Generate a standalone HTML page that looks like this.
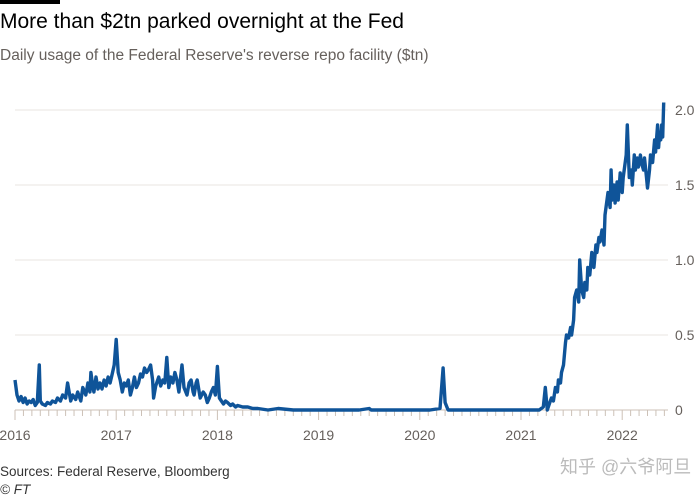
<!DOCTYPE html>
<html><head><meta charset="utf-8"><style>
body{margin:0;width:700px;height:500px;background:#fff;font-family:"Liberation Sans","Noto Sans CJK SC",sans-serif;overflow:hidden;position:relative}
.bar{position:absolute;left:0;top:0;width:60px;height:4px;background:#000}
#title{position:absolute;left:0;top:10px;font-size:21px;color:#000}
#sub{position:absolute;left:0;top:47px;font-size:15.5px;color:#66605c}
#src{position:absolute;left:0;top:464px;font-size:13.5px;color:#333}
#ft{position:absolute;left:0;top:482px;font-size:13.5px;color:#333;font-style:italic}
#wm{position:absolute;left:560px;top:453px;font-size:18px;color:#bbb}
svg{position:absolute;left:0;top:0}
</style></head><body>
<div class="bar"></div>
<div id="title">More than $2tn parked overnight at the Fed</div>
<div id="sub">Daily usage of the Federal Reserve's reverse repo facility ($tn)</div>
<svg id="chart" width="700" height="500"></svg>
<div id="src">Sources: Federal Reserve, Bloomberg</div>
<div id="ft">© FT</div>
<div id="wm">知乎 @六爷阿旦</div>
<script>
const yTicks=[0,0.5,1.0,1.5,2.0];
const yTickLabels=["0","0.5","1.0","1.5","2.0"];
const xYears=[2016,2017,2018,2019,2020,2021,2022];
const dates=[2016.0,2016.02,2016.04,2016.06,2016.08,2016.1,2016.12,2016.14,2016.16,2016.18,2016.2,2016.22,2016.24,2016.25,2016.27,2016.3,2016.32,2016.35,2016.37,2016.4,2016.42,2016.45,2016.47,2016.5,2016.52,2016.55,2016.57,2016.6,2016.62,2016.65,2016.67,2016.7,2016.72,2016.74,2016.75,2016.77,2016.78,2016.8,2016.82,2016.84,2016.86,2016.88,2016.9,2016.92,2016.94,2016.96,2016.98,2017.0,2017.02,2017.04,2017.06,2017.08,2017.1,2017.12,2017.14,2017.16,2017.18,2017.2,2017.22,2017.24,2017.26,2017.28,2017.3,2017.32,2017.34,2017.36,2017.37,2017.39,2017.4,2017.42,2017.44,2017.46,2017.48,2017.5,2017.52,2017.54,2017.56,2017.58,2017.6,2017.62,2017.65,2017.67,2017.7,2017.72,2017.74,2017.76,2017.77,2017.79,2017.8,2017.83,2017.86,2017.88,2017.9,2017.92,2017.94,2017.96,2017.98,2018.0,2018.02,2018.04,2018.06,2018.08,2018.1,2018.13,2018.15,2018.18,2018.2,2018.25,2018.3,2018.35,2018.4,2018.5,2018.6,2018.75,2018.9,2019.0,2019.2,2019.4,2019.5,2019.52,2019.7,2019.9,2020.0,2020.1,2020.2,2020.23,2020.25,2020.28,2020.35,2020.5,2020.7,2020.9,2021.0,2021.1,2021.18,2021.22,2021.24,2021.26,2021.28,2021.3,2021.32,2021.34,2021.36,2021.37,2021.39,2021.4,2021.42,2021.44,2021.45,2021.47,2021.49,2021.5,2021.52,2021.53,2021.55,2021.57,2021.58,2021.6,2021.62,2021.63,2021.65,2021.66,2021.68,2021.7,2021.72,2021.74,2021.75,2021.77,2021.78,2021.8,2021.82,2021.83,2021.85,2021.86,2021.88,2021.89,2021.9,2021.92,2021.93,2021.95,2021.96,2021.98,2022.0,2022.01,2022.02,2022.04,2022.05,2022.07,2022.09,2022.1,2022.12,2022.13,2022.15,2022.16,2022.18,2022.19,2022.21,2022.22,2022.24,2022.25,2022.27,2022.28,2022.3,2022.32,2022.33,2022.35,2022.36,2022.37,2022.38,2022.39,2022.4,2022.41,2022.42,2022.43];
const values=[0.2,0.1,0.06,0.09,0.05,0.08,0.04,0.06,0.05,0.07,0.03,0.05,0.3,0.06,0.04,0.03,0.05,0.04,0.06,0.05,0.08,0.06,0.1,0.08,0.18,0.06,0.1,0.07,0.12,0.06,0.15,0.1,0.18,0.12,0.25,0.15,0.12,0.22,0.14,0.18,0.14,0.2,0.16,0.22,0.18,0.24,0.3,0.47,0.25,0.2,0.12,0.18,0.16,0.2,0.1,0.15,0.22,0.15,0.18,0.24,0.22,0.28,0.25,0.27,0.3,0.2,0.08,0.16,0.18,0.22,0.16,0.2,0.18,0.35,0.15,0.22,0.18,0.25,0.2,0.12,0.3,0.15,0.1,0.18,0.2,0.12,0.1,0.18,0.2,0.08,0.12,0.1,0.05,0.08,0.12,0.15,0.1,0.29,0.08,0.06,0.04,0.06,0.05,0.03,0.04,0.02,0.03,0.02,0.02,0.01,0.01,0.0,0.01,0.0,0.0,0.0,0.0,0.0,0.01,0.0,0.0,0.0,0.0,0.0,0.01,0.28,0.05,0.0,0.0,0.0,0.0,0.0,0.0,0.0,0.0,0.02,0.15,0.0,0.04,0.08,0.06,0.15,0.12,0.2,0.18,0.25,0.3,0.45,0.5,0.48,0.55,0.5,0.6,0.75,0.8,0.72,1.0,0.8,0.75,0.85,0.8,0.95,0.9,1.05,0.95,1.1,1.05,1.15,1.12,1.2,1.1,1.3,1.4,1.45,1.35,1.6,1.4,1.5,1.38,1.52,1.4,1.58,1.45,1.55,1.6,1.7,1.9,1.55,1.6,1.5,1.7,1.6,1.68,1.62,1.7,1.65,1.6,1.68,1.55,1.48,1.6,1.7,1.65,1.8,1.72,1.9,1.75,1.85,1.8,1.9,1.82,2.05];
const svg=document.getElementById('chart');
const NS='http://www.w3.org/2000/svg';
const X=v=>15+(v-2016)*101.2;
const Y=v=>410-v*150;
function mk(t,a){const e=document.createElementNS(NS,t);for(const k in a)e.setAttribute(k,a[k]);svg.appendChild(e);return e;}
yTicks.forEach((t,i)=>{
  if(t>0){const g=mk('line',{x1:15,x2:668,y1:Y(t),y2:Y(t),stroke:'#e9e4e0','stroke-width':1});
  
  }
  const tx=mk('text',{x:675,y:Y(t)+5,'font-size':14,fill:'#66605c','font-family':'Liberation Sans'});
  tx.textContent=yTickLabels[i];
  
  
});
const ax=mk('line',{x1:15,x2:668,y1:410,y2:410,stroke:'#ccc1b7','stroke-width':1});


for(let m=0;m<=77;m++){const xv=2016+m/12;if(X(xv)>668)break;
  const tk=mk('line',{x1:X(xv),x2:X(xv),y1:410,y2:m%12==0?420:416,stroke:'#ccc1b7','stroke-width':1});
  
  }
xYears.forEach(yv=>{const t=mk('text',{x:X(yv),y:440,'font-size':14,fill:'#66605c','text-anchor':'middle','font-family':'Liberation Sans'});
  t.textContent=yv;
  
  });
const d=dates.map((x,i)=>(i?'L':'M')+X(x).toFixed(1)+','+Y(values[i]).toFixed(1)).join('');
const p=mk('path',{d:d,fill:'none',stroke:'#0f5499','stroke-width':3.4,'stroke-linejoin':'round'});


</script>
</body></html>
